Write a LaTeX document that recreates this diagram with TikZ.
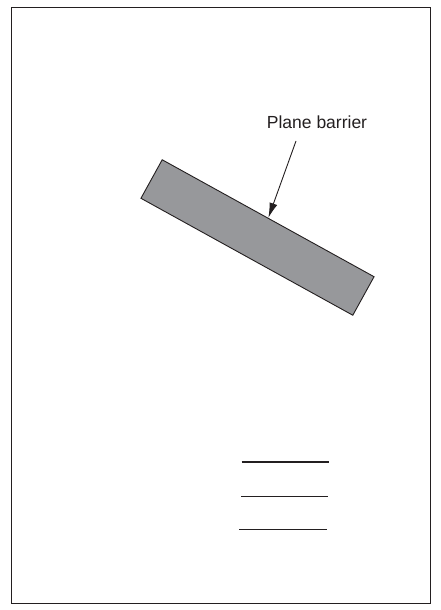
\documentclass[tikz,border=0pt]{standalone}
\usepackage{fontspec}
\setmainfont{Liberation Sans}
\usetikzlibrary{arrows.meta}
\definecolor{ink}{HTML}{231F20}
\definecolor{barfill}{HTML}{97989B}
\tikzset{
  frame/.style={draw=ink, line width=1.4pt},
  barrier/.style={draw=ink, fill=barfill, line width=0.9pt, minimum width=242pt, minimum height=44pt, inner sep=0pt, rotate=-28.9},
  lbl/.style={font=\fontsize{17.5}{20}\selectfont, text=ink, inner sep=0pt},
  pointer/.style={draw=ink, line width=0.9pt, -{Latex[length=15pt, width=8pt]}},
  rule/.style={draw=ink, line width=1.3pt}
}
\begin{document}
\begin{tikzpicture}[x=1pt, y=-1pt]
  \useasboundingbox (0,0) rectangle (440,610);
  \node[frame, minimum width=419.5pt, minimum height=595.5pt, inner sep=0pt, anchor=north west] (frm) at (10.5,7) {};
  \node[barrier] (bar) at (257.5,237.5) {};
  \node[lbl, anchor=base] (label) at (317,128) {Plane barrier};
  \coordinate (start) at (296,141);
  \draw[pointer] (start) -- (bar.north);
  \coordinate (l1a) at (241.5,462); \coordinate (l1b) at (329,462);
  \coordinate (l2a) at (241,496.5); \coordinate (l2b) at (328,496.5);
  \coordinate (l3a) at (239,529.5); \coordinate (l3b) at (326.5,529.5);
  \draw[rule] (l1a) -- (l1b);
  \draw[rule] (l2a) -- (l2b);
  \draw[rule] (l3a) -- (l3b);
\end{tikzpicture}
\end{document}
